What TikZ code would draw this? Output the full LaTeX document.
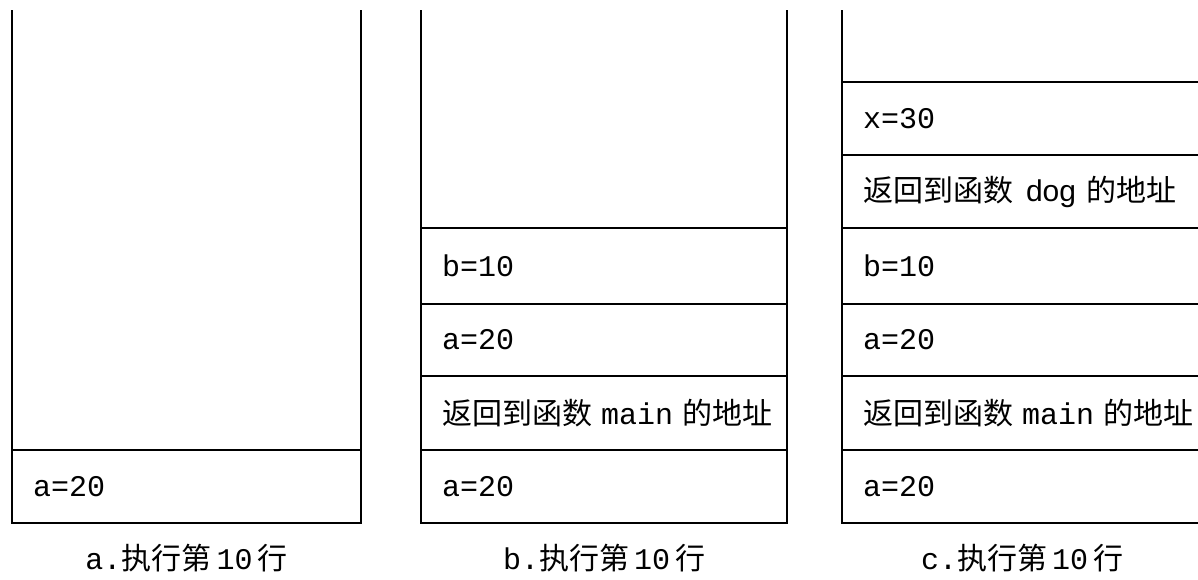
\documentclass[tikz,border=0pt]{standalone}
\usepackage{fontspec}
\setmainfont{Liberation Mono}
\newfontfamily\cjk{Noto Sans CJK SC}
\newfontfamily\propsans{Liberation Sans}
\newcommand{\gap}[1]{\hspace{#1pt}}
\begin{document}
\begin{tikzpicture}[x=1pt,y=-1pt,
  frame/.style={line width=1.6pt},
  cell/.style={draw, line width=1.6pt, rectangle, anchor=north west, outer sep=0pt,
    inner xsep=21pt, inner ysep=0pt, align=left,
    font=\fontsize{30}{34}\selectfont},
  cellA/.style={cell, minimum width=349pt, text width=307pt},
  cellB/.style={cell, minimum width=366pt, text width=324pt},
  cellC/.style={cell, minimum width=360pt, text width=318pt},
  captext/.style={font=\fontsize{30}{34}\selectfont, inner sep=0pt}
]
\useasboundingbox (0,0) rectangle (1198,579);
\clip (0,0) rectangle (1198,579);
% column a
\node[cellA, minimum height=73pt] (a1) at (12,450) {a=20};
\coordinate (a0l) at (12,10);
\coordinate (a0r) at (361,10);
\draw[frame] (a0l) -- (a1.north west);
\draw[frame] (a0r) -- (a1.north east);
\node[captext] (capa) at (186.5,558) {a.{\cjk 执行第}\gap{5}10\gap{5}{\cjk 行}};
% column b
\node[cellB, minimum height=73pt] (b1) at (421,450) {a=20};
\node[cellB, minimum height=74pt] (b2) at (421,376) {\rlap{{\cjk 返回到函数}\gap{9}main\gap{9}{\cjk 的地址}}};
\node[cellB, minimum height=72pt] (b3) at (421,304) {a=20};
\node[cellB, minimum height=76pt] (b4) at (421,228) {b=10};
\coordinate (b0l) at (421,10);
\coordinate (b0r) at (787,10);
\draw[frame] (b0l) -- (b4.north west);
\draw[frame] (b0r) -- (b4.north east);
\node[captext] (capb) at (604,558) {b.{\cjk 执行第}\gap{5}10\gap{5}{\cjk 行}};
% column c
\node[cellC, minimum height=73pt] (c1) at (842,450) {a=20};
\node[cellC, minimum height=74pt] (c2) at (842,376) {\rlap{{\cjk 返回到函数}\gap{9}main\gap{9}{\cjk 的地址}}};
\node[cellC, minimum height=72pt] (c3) at (842,304) {a=20};
\node[cellC, minimum height=76pt] (c4) at (842,228) {b=10};
\node[cellC, minimum height=73pt] (c5) at (842,155) {\rlap{{\cjk 返回到函数}\gap{13}{\propsans dog}\gap{10}{\cjk 的地址}}};
\node[cellC, minimum height=73pt] (c6) at (842,82) {x=30};
\coordinate (c0l) at (842,10);
\draw[frame] (c0l) -- (c6.north west);
\node[captext] (capc) at (1022,558) {c.{\cjk 执行第}\gap{5}10\gap{5}{\cjk 行}};
\end{tikzpicture}
\end{document}
